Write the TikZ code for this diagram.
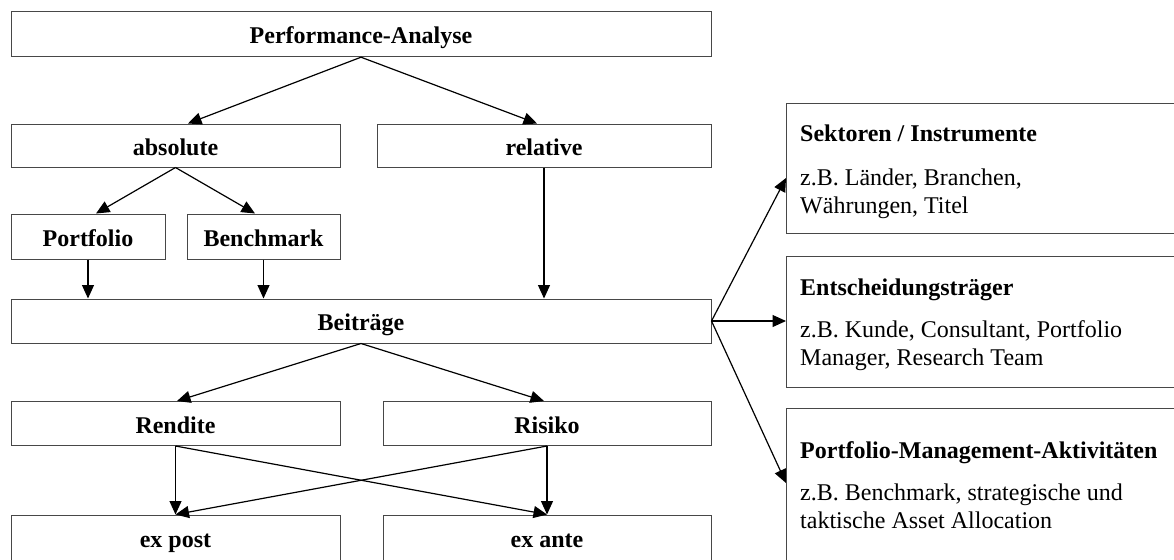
\documentclass[tikz,border=0pt]{standalone}
\usepackage{fontspec}
\setmainfont{Liberation Serif}
\usetikzlibrary{arrows.meta,calc}

\tikzset{
  box/.style={draw=black!72, line width=1pt, rectangle, inner sep=0pt,
    text height=20pt, text depth=1pt,
    font=\fontsize{24}{28}\selectfont\bfseries},
  infobox/.style={draw=black!72, line width=1pt, rectangle, inner sep=0pt,
    anchor=north west},
  title/.style={anchor=base west, inner sep=0pt,
    font=\fontsize{24}{28}\selectfont\bfseries},
  body/.style={anchor=base west, inner sep=0pt,
    font=\fontsize{24}{28}\selectfont},
  link/.style={line width=1.2pt, -{Triangle[length=13.5pt,width=12pt]}},
}

\begin{document}
\begin{tikzpicture}[x=1pt,y=-1pt]
\useasboundingbox (0,0) rectangle (1174,559);
\clip (0,0) rectangle (1174,559);

% hierarchy on the left
\node[box, minimum width=700pt, minimum height=45pt] (perf)  at (361,34.2)  {Performance-Analyse};
\node[box, minimum width=329pt, minimum height=43pt] (abs)   at (175.5,145.5) {absolute};
\node[box, minimum width=334pt, minimum height=43pt] (rel)   at (544,145.5) {relative};
\node[box, minimum width=154pt, minimum height=45pt] (port)  at (88,236.5)  {Portfolio};
\node[box, minimum width=153pt, minimum height=45pt] (bench) at (263.5,236.5) {Benchmark};
\node[box, minimum width=700pt, minimum height=44pt] (beit)  at (361,321)   {Beiträge};
\node[box, minimum width=329pt, minimum height=44pt] (rend)  at (175.5,423.5) {Rendite};
\node[box, minimum width=328pt, minimum height=44pt] (risk)  at (547,423.5)   {Risiko};
\node[box, minimum width=329pt, minimum height=46pt] (expost) at (175.5,538) {ex post};
\node[box, minimum width=328pt, minimum height=46pt] (exante) at (547,538)  {ex ante};

% detail boxes on the right
\node[infobox, minimum width=400pt, minimum height=130pt] (sek) at (786,103) {};
\node[infobox, minimum width=400pt, minimum height=131pt] (ent) at (786,256) {};
\node[infobox, minimum width=400pt, minimum height=160pt] (pm)  at (786,408) {};

\node[title] (sekT)  at (800,142) {Sektoren / Instrumente};
\node[body]  (sekB1) at (800,185) {z.B. Länder, Branchen,};
\node[body]  (sekB2) at (800,213) {Währungen, Titel};

\node[title] (entT)  at (800,295) {Entscheidungsträger};
\node[body]  (entB1) at (800,337) {z.B. Kunde, Consultant, Portfolio};
\node[body]  (entB2) at (800,365) {Manager, Research Team};

\node[title] (pmT)  at (800,458) {Portfolio-Management-Aktivitäten};
\node[body]  (pmB1) at (800,500) {z.B. Benchmark, strategische und};
\node[body]  (pmB2) at (800,528) {taktische Asset Allocation};

% connectors
\draw[link] (perf.south) -- ($(abs.north)+(12.5,0)$);
\draw[link] (perf.south) -- ($(rel.north)+(-7,0)$);
\draw[link] (abs.south) -- ($(port.north)+(8,0)$);
\draw[link] (abs.south) -- ($(bench.north)+(-8.5,0)$);
\draw[link] (port.south) -- (port.south |- beit.north);
\draw[link] (bench.south) -- (bench.south |- beit.north);
\draw[link] (rel.south) -- (rel.south |- beit.north);
\draw[link] (beit.south) -- ($(rend.north)+(1.5,0)$);
\draw[link] (beit.south) -- ($(risk.north)+(-3,0)$);
\draw[link] (rend.south) -- (expost.north);
\draw[link] (rend.south) -- (exante.north);
\draw[link] (risk.south) -- (exante.north);
\draw[link] (risk.south) -- (expost.north);
\draw[link] (beit.east) -- ($(sek.north west)+(0,75)$);
\draw[link] (beit.east) -- (beit.east -| ent.west);
\draw[link] (beit.east) -- ($(pm.north west)+(0,75)$);
\end{tikzpicture}
\end{document}
